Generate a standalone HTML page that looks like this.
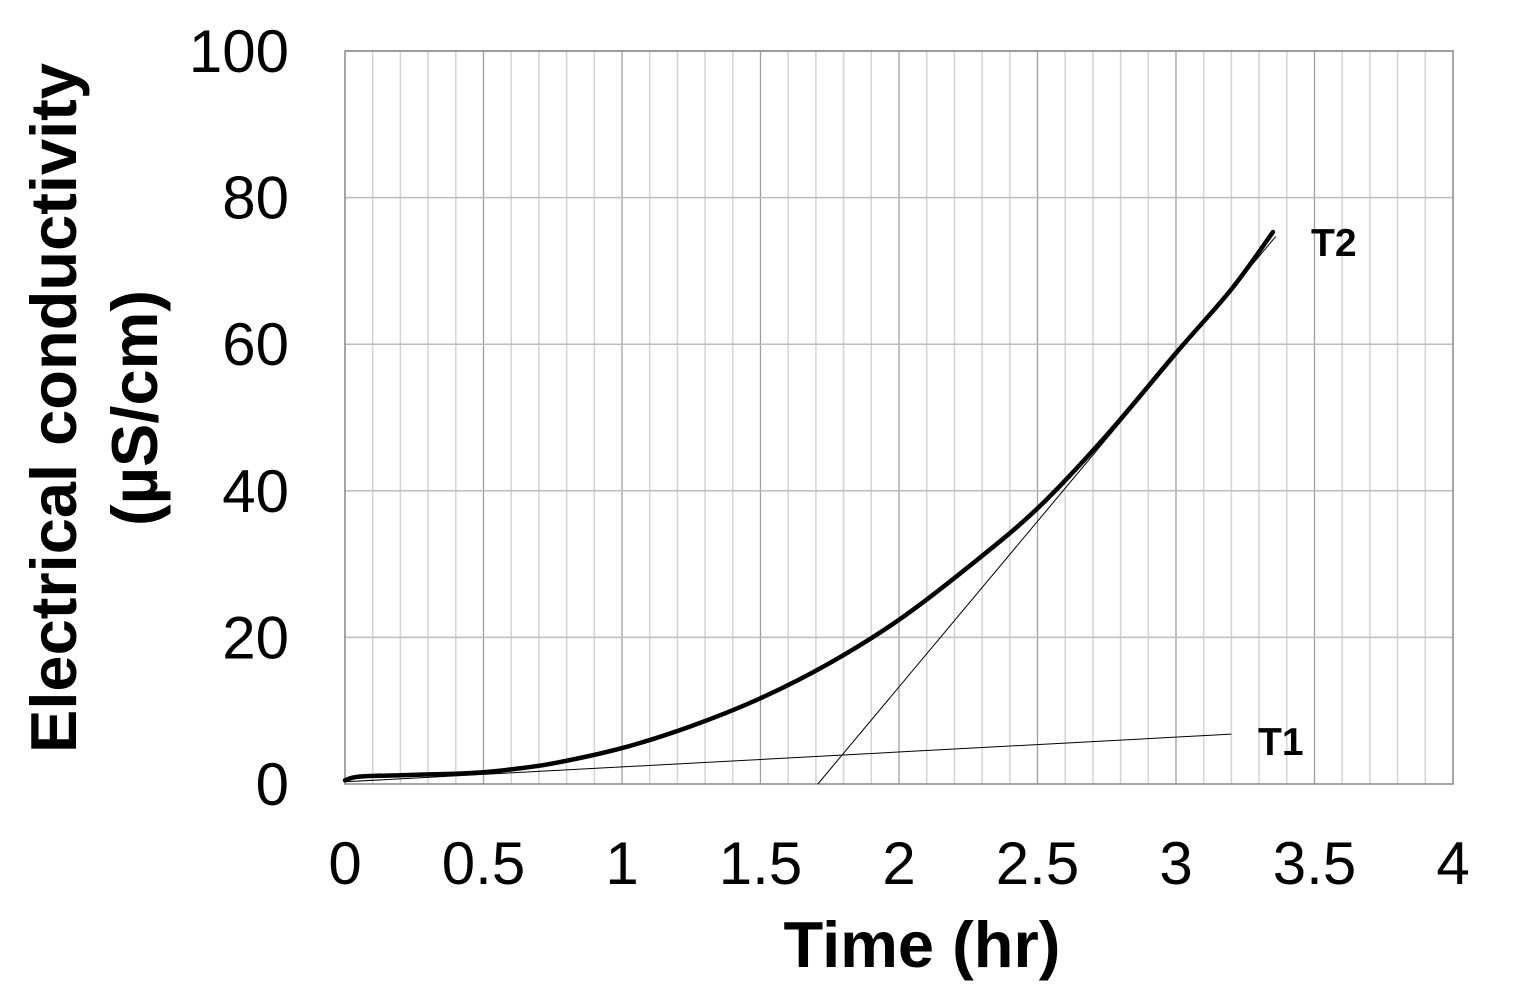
<!DOCTYPE html>
<html><head><meta charset="utf-8"><style>
body{margin:0;background:#fff}
svg text{font-family:"Liberation Sans",Arial,sans-serif}
</style></head><body>
<svg width="1522" height="999">
<g id="grid"></g>
<g id="axes"></g>
<g id="series"></g>
<text x="922" y="967" font-size="65" font-weight="bold" text-anchor="middle">Time (hr)</text>
<text transform="translate(76,408) rotate(-90)" font-size="65" font-weight="bold" text-anchor="middle">Electrical conductivity</text>
<text transform="translate(157,408) rotate(-90)" font-size="65" font-weight="bold" text-anchor="middle">(µS/cm)</text>
</svg>
<script>
const xTicks=[0,0.5,1,1.5,2,2.5,3,3.5,4];
const xTickLabels=["0","0.5","1","1.5","2","2.5","3","3.5","4"];
const yTicks=[0,20,40,60,80,100];
const yTickLabels=["0","20","40","60","80","100"];
const times=[0,0.05,0.2,0.4,0.5,0.6,0.75,1,1.25,1.5,1.75,2,2.25,2.5,2.75,3,3.2,3.35];
const conductivity=[0.5,1.0,1.2,1.4,1.6,2.0,2.8,4.9,7.9,11.7,16.5,22.4,29.6,37.6,47.6,58.8,67.5,75.3];
const t1X=[0,3.2], t1Y=[0.3,6.8];
const t2X=[1.707,3.36], t2Y=[0,74.7];
const X=t=>345+t*277, Y=v=>784-v*7.33;
const NS="http://www.w3.org/2000/svg";
function mk(p,tag,a){const e=document.createElementNS(NS,tag);for(const k in a)e.setAttribute(k,a[k]);p.appendChild(e);return e;}
const g=document.getElementById('grid'),ax=document.getElementById('axes'),s=document.getElementById('series');
for(let i=1;i<40;i++){const l=mk(g,'line',{x1:X(i/10),x2:X(i/10),y1:Y(100),y2:Y(0),stroke:i%5==0?'#a0a0a0':'#d4d4d4','stroke-width':i%5==0?1.3:1.5});

}
yTicks.forEach((v,i)=>{if(v>0){const l=mk(g,'line',{x1:X(0),x2:X(4),y1:Y(v),y2:Y(v),stroke:'#bdbdbd','stroke-width':1.5});

}
const t=mk(ax,'text',{x:289,y:Y(v)+21,'font-size':60,'text-anchor':'end'});t.textContent=yTickLabels[i];

});
xTicks.forEach((v,i)=>{const t=mk(ax,'text',{x:X(v),y:884,'font-size':60,'text-anchor':'middle'});t.textContent=xTickLabels[i];

});
const r=mk(ax,'rect',{x:X(0),y:Y(100),width:X(4)-X(0),height:Y(0)-Y(100),fill:'none',stroke:'#888','stroke-width':1.5});


const l1=mk(s,'line',{x1:X(t1X[0]),y1:Y(t1Y[0]),x2:X(t1X[1]),y2:Y(t1Y[1]),stroke:'#000','stroke-width':1});


const l2=mk(s,'line',{x1:X(t2X[0]),y1:Y(t2Y[0]),x2:X(t2X[1]),y2:Y(t2Y[1]),stroke:'#000','stroke-width':1});


const P=times.map((t,i)=>[X(t),Y(conductivity[i])]);
let d='M'+P[0][0]+','+P[0][1];
for(let i=0;i<P.length-1;i++){const p0=P[Math.max(0,i-1)],p1=P[i],p2=P[i+1],p3=P[Math.min(P.length-1,i+2)];
d+=` C${p1[0]+(p2[0]-p0[0])/6},${p1[1]+(p2[1]-p0[1])/6} ${p2[0]-(p3[0]-p1[0])/6},${p2[1]-(p3[1]-p1[1])/6} ${p2[0]},${p2[1]}`;}
const c=mk(s,'path',{d:d,fill:'none',stroke:'#000','stroke-width':4.5,'stroke-linecap':'round','stroke-linejoin':'round'});


const a=mk(s,'text',{x:1258,y:755,'font-size':39,'font-weight':'bold'});a.textContent='T1';


const b=mk(s,'text',{x:1311,y:256,'font-size':39,'font-weight':'bold'});b.textContent='T2';


</script>
</body></html>
